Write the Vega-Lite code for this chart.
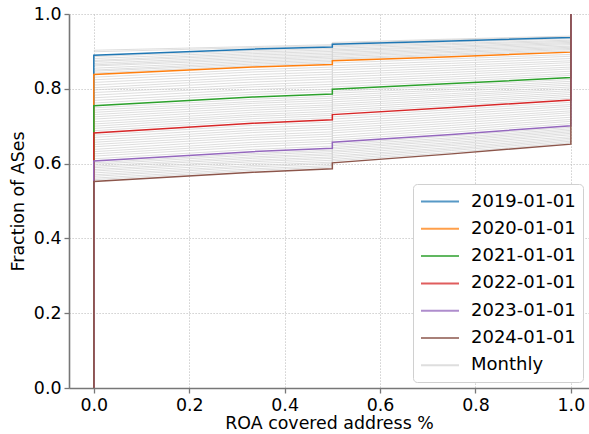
{
"$schema": "https://vega.github.io/schema/vega-lite/v6.json",
"width": 520, "height": 374,
"autosize": {"type": "none"},
"padding": {"left": 69, "top": 14, "right": 0, "bottom": 46},
"config": {
 "font": "DejaVu Sans",
 "view": {"stroke": null},
 "axis": {"labelFont": "DejaVu Sans", "titleFont": "DejaVu Sans", "labelFontSize": 17.4, "titleFontSize": 17.4, "titleFontWeight": "normal", "labelColor": "#000000", "titleColor": "#000000", "domainColor": "#777777", "domainWidth": 1.6, "tickColor": "#777777", "tickWidth": 1.3, "tickSize": 5, "gridColor": "#bbbbbb", "gridDash": [1.2, 1.8], "gridWidth": 0.9, "labelPadding": 3}
},
"datasets": {
"yearly": [
{"s":"2019-01-01","x":0,"y":0},{"s":"2019-01-01","x":0,"y":0.890},{"s":"2019-01-01","x":0.333,"y":0.906},{"s":"2019-01-01","x":0.5,"y":0.912},{"s":"2019-01-01","x":0.5,"y":0.919},{"s":"2019-01-01","x":0.75,"y":0.928},{"s":"2019-01-01","x":1,"y":0.937},{"s":"2019-01-01","x":1,"y":1},
{"s":"2020-01-01","x":0,"y":0},{"s":"2020-01-01","x":0,"y":0.838},{"s":"2020-01-01","x":0.333,"y":0.858},{"s":"2020-01-01","x":0.5,"y":0.865},{"s":"2020-01-01","x":0.5,"y":0.875},{"s":"2020-01-01","x":0.75,"y":0.886},{"s":"2020-01-01","x":1,"y":0.898},{"s":"2020-01-01","x":1,"y":1},
{"s":"2021-01-01","x":0,"y":0},{"s":"2021-01-01","x":0,"y":0.755},{"s":"2021-01-01","x":0.333,"y":0.778},{"s":"2021-01-01","x":0.5,"y":0.786},{"s":"2021-01-01","x":0.5,"y":0.799},{"s":"2021-01-01","x":0.75,"y":0.814},{"s":"2021-01-01","x":1,"y":0.830},{"s":"2021-01-01","x":1,"y":1},
{"s":"2022-01-01","x":0,"y":0},{"s":"2022-01-01","x":0,"y":0.682},{"s":"2022-01-01","x":0.333,"y":0.708},{"s":"2022-01-01","x":0.5,"y":0.717},{"s":"2022-01-01","x":0.5,"y":0.731},{"s":"2022-01-01","x":0.75,"y":0.750},{"s":"2022-01-01","x":1,"y":0.770},{"s":"2022-01-01","x":1,"y":1},
{"s":"2023-01-01","x":0,"y":0},{"s":"2023-01-01","x":0,"y":0.607},{"s":"2023-01-01","x":0.333,"y":0.632},{"s":"2023-01-01","x":0.5,"y":0.641},{"s":"2023-01-01","x":0.5,"y":0.657},{"s":"2023-01-01","x":0.75,"y":0.678},{"s":"2023-01-01","x":1,"y":0.701},{"s":"2023-01-01","x":1,"y":1},
{"s":"2024-01-01","x":0,"y":0},{"s":"2024-01-01","x":0,"y":0.552},{"s":"2024-01-01","x":0.333,"y":0.577},{"s":"2024-01-01","x":0.5,"y":0.586},{"s":"2024-01-01","x":0.5,"y":0.602},{"s":"2024-01-01","x":0.75,"y":0.626},{"s":"2024-01-01","x":1,"y":0.652},{"s":"2024-01-01","x":1,"y":1}
],
"monthly": [
{"m":"2018-11","x":0,"y":0.903},{"m":"2018-11","x":0.333,"y":0.913},{"m":"2018-11","x":0.5,"y":0.918},{"m":"2018-11","x":0.5,"y":0.924},{"m":"2018-11","x":0.75,"y":0.933},{"m":"2018-11","x":1,"y":0.941},
{"m":"2018-12","x":0,"y":0.899},{"m":"2018-12","x":0.333,"y":0.910},{"m":"2018-12","x":0.5,"y":0.915},{"m":"2018-12","x":0.5,"y":0.921},{"m":"2018-12","x":0.75,"y":0.931},{"m":"2018-12","x":1,"y":0.939},
{"m":"2019-02","x":0,"y":0.886},{"m":"2019-02","x":0.333,"y":0.902},{"m":"2019-02","x":0.5,"y":0.908},{"m":"2019-02","x":0.5,"y":0.915},{"m":"2019-02","x":0.75,"y":0.925},{"m":"2019-02","x":1,"y":0.934},
{"m":"2019-03","x":0,"y":0.881},{"m":"2019-03","x":0.333,"y":0.898},{"m":"2019-03","x":0.5,"y":0.904},{"m":"2019-03","x":0.5,"y":0.912},{"m":"2019-03","x":0.75,"y":0.921},{"m":"2019-03","x":1,"y":0.930},
{"m":"2019-04","x":0,"y":0.876},{"m":"2019-04","x":0.333,"y":0.894},{"m":"2019-04","x":0.5,"y":0.900},{"m":"2019-04","x":0.5,"y":0.908},{"m":"2019-04","x":0.75,"y":0.918},{"m":"2019-04","x":1,"y":0.927},
{"m":"2019-05","x":0,"y":0.873},{"m":"2019-05","x":0.333,"y":0.890},{"m":"2019-05","x":0.5,"y":0.896},{"m":"2019-05","x":0.5,"y":0.904},{"m":"2019-05","x":0.75,"y":0.914},{"m":"2019-05","x":1,"y":0.924},
{"m":"2019-06","x":0,"y":0.868},{"m":"2019-06","x":0.333,"y":0.886},{"m":"2019-06","x":0.5,"y":0.892},{"m":"2019-06","x":0.5,"y":0.901},{"m":"2019-06","x":0.75,"y":0.911},{"m":"2019-06","x":1,"y":0.921},
{"m":"2019-07","x":0,"y":0.864},{"m":"2019-07","x":0.333,"y":0.882},{"m":"2019-07","x":0.5,"y":0.888},{"m":"2019-07","x":0.5,"y":0.897},{"m":"2019-07","x":0.75,"y":0.907},{"m":"2019-07","x":1,"y":0.918},
{"m":"2019-08","x":0,"y":0.861},{"m":"2019-08","x":0.333,"y":0.878},{"m":"2019-08","x":0.5,"y":0.885},{"m":"2019-08","x":0.5,"y":0.893},{"m":"2019-08","x":0.75,"y":0.904},{"m":"2019-08","x":1,"y":0.914},
{"m":"2019-09","x":0,"y":0.855},{"m":"2019-09","x":0.333,"y":0.874},{"m":"2019-09","x":0.5,"y":0.881},{"m":"2019-09","x":0.5,"y":0.890},{"m":"2019-09","x":0.75,"y":0.900},{"m":"2019-09","x":1,"y":0.911},
{"m":"2019-10","x":0,"y":0.850},{"m":"2019-10","x":0.333,"y":0.870},{"m":"2019-10","x":0.5,"y":0.877},{"m":"2019-10","x":0.5,"y":0.886},{"m":"2019-10","x":0.75,"y":0.897},{"m":"2019-10","x":1,"y":0.908},
{"m":"2019-11","x":0,"y":0.847},{"m":"2019-11","x":0.333,"y":0.866},{"m":"2019-11","x":0.5,"y":0.873},{"m":"2019-11","x":0.5,"y":0.882},{"m":"2019-11","x":0.75,"y":0.893},{"m":"2019-11","x":1,"y":0.905},
{"m":"2019-12","x":0,"y":0.842},{"m":"2019-12","x":0.333,"y":0.862},{"m":"2019-12","x":0.5,"y":0.869},{"m":"2019-12","x":0.5,"y":0.879},{"m":"2019-12","x":0.75,"y":0.890},{"m":"2019-12","x":1,"y":0.901},
{"m":"2020-02","x":0,"y":0.831},{"m":"2020-02","x":0.333,"y":0.851},{"m":"2020-02","x":0.5,"y":0.858},{"m":"2020-02","x":0.5,"y":0.869},{"m":"2020-02","x":0.75,"y":0.880},{"m":"2020-02","x":1,"y":0.892},
{"m":"2020-03","x":0,"y":0.824},{"m":"2020-03","x":0.333,"y":0.845},{"m":"2020-03","x":0.5,"y":0.852},{"m":"2020-03","x":0.5,"y":0.862},{"m":"2020-03","x":0.75,"y":0.874},{"m":"2020-03","x":1,"y":0.887},
{"m":"2020-04","x":0,"y":0.817},{"m":"2020-04","x":0.333,"y":0.838},{"m":"2020-04","x":0.5,"y":0.845},{"m":"2020-04","x":0.5,"y":0.856},{"m":"2020-04","x":0.75,"y":0.868},{"m":"2020-04","x":1,"y":0.881},
{"m":"2020-05","x":0,"y":0.810},{"m":"2020-05","x":0.333,"y":0.831},{"m":"2020-05","x":0.5,"y":0.839},{"m":"2020-05","x":0.5,"y":0.850},{"m":"2020-05","x":0.75,"y":0.862},{"m":"2020-05","x":1,"y":0.875},
{"m":"2020-06","x":0,"y":0.803},{"m":"2020-06","x":0.333,"y":0.825},{"m":"2020-06","x":0.5,"y":0.832},{"m":"2020-06","x":0.5,"y":0.843},{"m":"2020-06","x":0.75,"y":0.856},{"m":"2020-06","x":1,"y":0.870},
{"m":"2020-07","x":0,"y":0.797},{"m":"2020-07","x":0.333,"y":0.818},{"m":"2020-07","x":0.5,"y":0.826},{"m":"2020-07","x":0.5,"y":0.837},{"m":"2020-07","x":0.75,"y":0.850},{"m":"2020-07","x":1,"y":0.864},
{"m":"2020-08","x":0,"y":0.790},{"m":"2020-08","x":0.333,"y":0.811},{"m":"2020-08","x":0.5,"y":0.819},{"m":"2020-08","x":0.5,"y":0.831},{"m":"2020-08","x":0.75,"y":0.844},{"m":"2020-08","x":1,"y":0.858},
{"m":"2020-09","x":0,"y":0.783},{"m":"2020-09","x":0.333,"y":0.805},{"m":"2020-09","x":0.5,"y":0.812},{"m":"2020-09","x":0.5,"y":0.824},{"m":"2020-09","x":0.75,"y":0.838},{"m":"2020-09","x":1,"y":0.853},
{"m":"2020-10","x":0,"y":0.776},{"m":"2020-10","x":0.333,"y":0.798},{"m":"2020-10","x":0.5,"y":0.806},{"m":"2020-10","x":0.5,"y":0.818},{"m":"2020-10","x":0.75,"y":0.832},{"m":"2020-10","x":1,"y":0.847},
{"m":"2020-11","x":0,"y":0.769},{"m":"2020-11","x":0.333,"y":0.791},{"m":"2020-11","x":0.5,"y":0.799},{"m":"2020-11","x":0.5,"y":0.812},{"m":"2020-11","x":0.75,"y":0.826},{"m":"2020-11","x":1,"y":0.841},
{"m":"2020-12","x":0,"y":0.762},{"m":"2020-12","x":0.333,"y":0.785},{"m":"2020-12","x":0.5,"y":0.793},{"m":"2020-12","x":0.5,"y":0.805},{"m":"2020-12","x":0.75,"y":0.820},{"m":"2020-12","x":1,"y":0.836},
{"m":"2021-02","x":0,"y":0.749},{"m":"2021-02","x":0.333,"y":0.772},{"m":"2021-02","x":0.5,"y":0.780},{"m":"2021-02","x":0.5,"y":0.793},{"m":"2021-02","x":0.75,"y":0.809},{"m":"2021-02","x":1,"y":0.825},
{"m":"2021-03","x":0,"y":0.743},{"m":"2021-03","x":0.333,"y":0.766},{"m":"2021-03","x":0.5,"y":0.775},{"m":"2021-03","x":0.5,"y":0.788},{"m":"2021-03","x":0.75,"y":0.803},{"m":"2021-03","x":1,"y":0.820},
{"m":"2021-04","x":0,"y":0.737},{"m":"2021-04","x":0.333,"y":0.761},{"m":"2021-04","x":0.5,"y":0.769},{"m":"2021-04","x":0.5,"y":0.782},{"m":"2021-04","x":0.75,"y":0.798},{"m":"2021-04","x":1,"y":0.815},
{"m":"2021-05","x":0,"y":0.731},{"m":"2021-05","x":0.333,"y":0.755},{"m":"2021-05","x":0.5,"y":0.763},{"m":"2021-05","x":0.5,"y":0.776},{"m":"2021-05","x":0.75,"y":0.793},{"m":"2021-05","x":1,"y":0.810},
{"m":"2021-06","x":0,"y":0.725},{"m":"2021-06","x":0.333,"y":0.749},{"m":"2021-06","x":0.5,"y":0.757},{"m":"2021-06","x":0.5,"y":0.771},{"m":"2021-06","x":0.75,"y":0.787},{"m":"2021-06","x":1,"y":0.805},
{"m":"2021-07","x":0,"y":0.719},{"m":"2021-07","x":0.333,"y":0.743},{"m":"2021-07","x":0.5,"y":0.752},{"m":"2021-07","x":0.5,"y":0.765},{"m":"2021-07","x":0.75,"y":0.782},{"m":"2021-07","x":1,"y":0.800},
{"m":"2021-08","x":0,"y":0.712},{"m":"2021-08","x":0.333,"y":0.737},{"m":"2021-08","x":0.5,"y":0.746},{"m":"2021-08","x":0.5,"y":0.759},{"m":"2021-08","x":0.75,"y":0.777},{"m":"2021-08","x":1,"y":0.795},
{"m":"2021-09","x":0,"y":0.706},{"m":"2021-09","x":0.333,"y":0.731},{"m":"2021-09","x":0.5,"y":0.740},{"m":"2021-09","x":0.5,"y":0.754},{"m":"2021-09","x":0.75,"y":0.771},{"m":"2021-09","x":1,"y":0.790},
{"m":"2021-10","x":0,"y":0.700},{"m":"2021-10","x":0.333,"y":0.726},{"m":"2021-10","x":0.5,"y":0.734},{"m":"2021-10","x":0.5,"y":0.748},{"m":"2021-10","x":0.75,"y":0.766},{"m":"2021-10","x":1,"y":0.785},
{"m":"2021-11","x":0,"y":0.694},{"m":"2021-11","x":0.333,"y":0.720},{"m":"2021-11","x":0.5,"y":0.729},{"m":"2021-11","x":0.5,"y":0.742},{"m":"2021-11","x":0.75,"y":0.761},{"m":"2021-11","x":1,"y":0.780},
{"m":"2021-12","x":0,"y":0.688},{"m":"2021-12","x":0.333,"y":0.714},{"m":"2021-12","x":0.5,"y":0.723},{"m":"2021-12","x":0.5,"y":0.737},{"m":"2021-12","x":0.75,"y":0.755},{"m":"2021-12","x":1,"y":0.775},
{"m":"2022-02","x":0,"y":0.676},{"m":"2022-02","x":0.333,"y":0.702},{"m":"2022-02","x":0.5,"y":0.711},{"m":"2022-02","x":0.5,"y":0.725},{"m":"2022-02","x":0.75,"y":0.744},{"m":"2022-02","x":1,"y":0.764},
{"m":"2022-03","x":0,"y":0.670},{"m":"2022-03","x":0.333,"y":0.695},{"m":"2022-03","x":0.5,"y":0.704},{"m":"2022-03","x":0.5,"y":0.719},{"m":"2022-03","x":0.75,"y":0.738},{"m":"2022-03","x":1,"y":0.758},
{"m":"2022-04","x":0,"y":0.663},{"m":"2022-04","x":0.333,"y":0.689},{"m":"2022-04","x":0.5,"y":0.698},{"m":"2022-04","x":0.5,"y":0.712},{"m":"2022-04","x":0.75,"y":0.732},{"m":"2022-04","x":1,"y":0.753},
{"m":"2022-05","x":0,"y":0.657},{"m":"2022-05","x":0.333,"y":0.683},{"m":"2022-05","x":0.5,"y":0.692},{"m":"2022-05","x":0.5,"y":0.706},{"m":"2022-05","x":0.75,"y":0.726},{"m":"2022-05","x":1,"y":0.747},
{"m":"2022-06","x":0,"y":0.651},{"m":"2022-06","x":0.333,"y":0.676},{"m":"2022-06","x":0.5,"y":0.685},{"m":"2022-06","x":0.5,"y":0.700},{"m":"2022-06","x":0.75,"y":0.720},{"m":"2022-06","x":1,"y":0.741},
{"m":"2022-07","x":0,"y":0.645},{"m":"2022-07","x":0.333,"y":0.670},{"m":"2022-07","x":0.5,"y":0.679},{"m":"2022-07","x":0.5,"y":0.694},{"m":"2022-07","x":0.75,"y":0.714},{"m":"2022-07","x":1,"y":0.736},
{"m":"2022-08","x":0,"y":0.638},{"m":"2022-08","x":0.333,"y":0.664},{"m":"2022-08","x":0.5,"y":0.673},{"m":"2022-08","x":0.5,"y":0.688},{"m":"2022-08","x":0.75,"y":0.708},{"m":"2022-08","x":1,"y":0.730},
{"m":"2022-09","x":0,"y":0.632},{"m":"2022-09","x":0.333,"y":0.657},{"m":"2022-09","x":0.5,"y":0.666},{"m":"2022-09","x":0.5,"y":0.682},{"m":"2022-09","x":0.75,"y":0.702},{"m":"2022-09","x":1,"y":0.724},
{"m":"2022-10","x":0,"y":0.626},{"m":"2022-10","x":0.333,"y":0.651},{"m":"2022-10","x":0.5,"y":0.660},{"m":"2022-10","x":0.5,"y":0.675},{"m":"2022-10","x":0.75,"y":0.696},{"m":"2022-10","x":1,"y":0.718},
{"m":"2022-11","x":0,"y":0.620},{"m":"2022-11","x":0.333,"y":0.645},{"m":"2022-11","x":0.5,"y":0.654},{"m":"2022-11","x":0.5,"y":0.669},{"m":"2022-11","x":0.75,"y":0.690},{"m":"2022-11","x":1,"y":0.713},
{"m":"2022-12","x":0,"y":0.613},{"m":"2022-12","x":0.333,"y":0.638},{"m":"2022-12","x":0.5,"y":0.647},{"m":"2022-12","x":0.5,"y":0.663},{"m":"2022-12","x":0.75,"y":0.684},{"m":"2022-12","x":1,"y":0.707},
{"m":"2023-02","x":0,"y":0.602},{"m":"2023-02","x":0.333,"y":0.627},{"m":"2023-02","x":0.5,"y":0.636},{"m":"2023-02","x":0.5,"y":0.652},{"m":"2023-02","x":0.75,"y":0.674},{"m":"2023-02","x":1,"y":0.697},
{"m":"2023-03","x":0,"y":0.598},{"m":"2023-03","x":0.333,"y":0.623},{"m":"2023-03","x":0.5,"y":0.632},{"m":"2023-03","x":0.5,"y":0.648},{"m":"2023-03","x":0.75,"y":0.669},{"m":"2023-03","x":1,"y":0.693},
{"m":"2023-04","x":0,"y":0.593},{"m":"2023-04","x":0.333,"y":0.618},{"m":"2023-04","x":0.5,"y":0.627},{"m":"2023-04","x":0.5,"y":0.643},{"m":"2023-04","x":0.75,"y":0.665},{"m":"2023-04","x":1,"y":0.689},
{"m":"2023-05","x":0,"y":0.589},{"m":"2023-05","x":0.333,"y":0.614},{"m":"2023-05","x":0.5,"y":0.623},{"m":"2023-05","x":0.5,"y":0.639},{"m":"2023-05","x":0.75,"y":0.661},{"m":"2023-05","x":1,"y":0.685},
{"m":"2023-06","x":0,"y":0.584},{"m":"2023-06","x":0.333,"y":0.609},{"m":"2023-06","x":0.5,"y":0.618},{"m":"2023-06","x":0.5,"y":0.634},{"m":"2023-06","x":0.75,"y":0.656},{"m":"2023-06","x":1,"y":0.681},
{"m":"2023-07","x":0,"y":0.580},{"m":"2023-07","x":0.333,"y":0.605},{"m":"2023-07","x":0.5,"y":0.614},{"m":"2023-07","x":0.5,"y":0.630},{"m":"2023-07","x":0.75,"y":0.652},{"m":"2023-07","x":1,"y":0.677},
{"m":"2023-08","x":0,"y":0.575},{"m":"2023-08","x":0.333,"y":0.600},{"m":"2023-08","x":0.5,"y":0.609},{"m":"2023-08","x":0.5,"y":0.625},{"m":"2023-08","x":0.75,"y":0.648},{"m":"2023-08","x":1,"y":0.672},
{"m":"2023-09","x":0,"y":0.570},{"m":"2023-09","x":0.333,"y":0.595},{"m":"2023-09","x":0.5,"y":0.604},{"m":"2023-09","x":0.5,"y":0.620},{"m":"2023-09","x":0.75,"y":0.643},{"m":"2023-09","x":1,"y":0.668},
{"m":"2023-10","x":0,"y":0.566},{"m":"2023-10","x":0.333,"y":0.591},{"m":"2023-10","x":0.5,"y":0.600},{"m":"2023-10","x":0.5,"y":0.616},{"m":"2023-10","x":0.75,"y":0.639},{"m":"2023-10","x":1,"y":0.664},
{"m":"2023-11","x":0,"y":0.561},{"m":"2023-11","x":0.333,"y":0.586},{"m":"2023-11","x":0.5,"y":0.595},{"m":"2023-11","x":0.5,"y":0.611},{"m":"2023-11","x":0.75,"y":0.635},{"m":"2023-11","x":1,"y":0.660},
{"m":"2023-12","x":0,"y":0.557},{"m":"2023-12","x":0.333,"y":0.582},{"m":"2023-12","x":0.5,"y":0.591},{"m":"2023-12","x":0.5,"y":0.607},{"m":"2023-12","x":0.75,"y":0.630},{"m":"2023-12","x":1,"y":0.656}
]
},
"layer": [
 {
  "data": {"name": "monthly"},
  "mark": {"type": "line", "strokeWidth": 1, "opacity": 0.75},
  "encoding": {
   "x": {"field": "x", "type": "quantitative", "scale": {"domain": [-0.052, 1.038], "nice": false, "zero": false},
         "axis": {"title": "ROA covered address %", "values": [0, 0.2, 0.4, 0.6, 0.8, 1.0], "format": ".1f", "titlePadding": 1, "grid": true}},
   "y": {"field": "y", "type": "quantitative", "scale": {"domain": [0, 1], "nice": false},
         "axis": {"title": "Fraction of ASes", "values": [0, 0.2, 0.4, 0.6, 0.8, 1.0], "format": ".1f", "titlePadding": 6, "grid": true}},
   "detail": {"field": "m", "type": "nominal"},
   "color": {"datum": "Monthly", "type": "nominal"},
   "order": {"value": null}
  }
 },
 {
  "data": {"name": "yearly"},
  "mark": {"type": "line", "strokeWidth": 1.5},
  "encoding": {
   "x": {"field": "x", "type": "quantitative"},
   "y": {"field": "y", "type": "quantitative"},
   "color": {"field": "s", "type": "nominal",
     "scale": {"domain": ["2019-01-01","2020-01-01","2021-01-01","2022-01-01","2023-01-01","2024-01-01","Monthly"],
               "range": ["#1f77b4","#ff7f0e","#2ca02c","#d62728","#9467bd","#8c564b","#d3d3d3"]},
     "legend": {"title": null, "orient": "none", "legendX": 344, "legendY": 170, "symbolType": "M-1,0H3", "symbolSize": 361, "symbolStrokeWidth": 2, "symbolOpacity": 0.55, "labelFontSize": 18, "labelFont": "DejaVu Sans", "labelColor": "#000000", "labelOffset": 30, "rowPadding": 7.3, "padding": 7, "fillColor": "#ffffff", "strokeColor": "#d0d0d0", "cornerRadius": 4, "labelLimit": 300}},
   "order": {"value": null}
  }
 }
]
}
